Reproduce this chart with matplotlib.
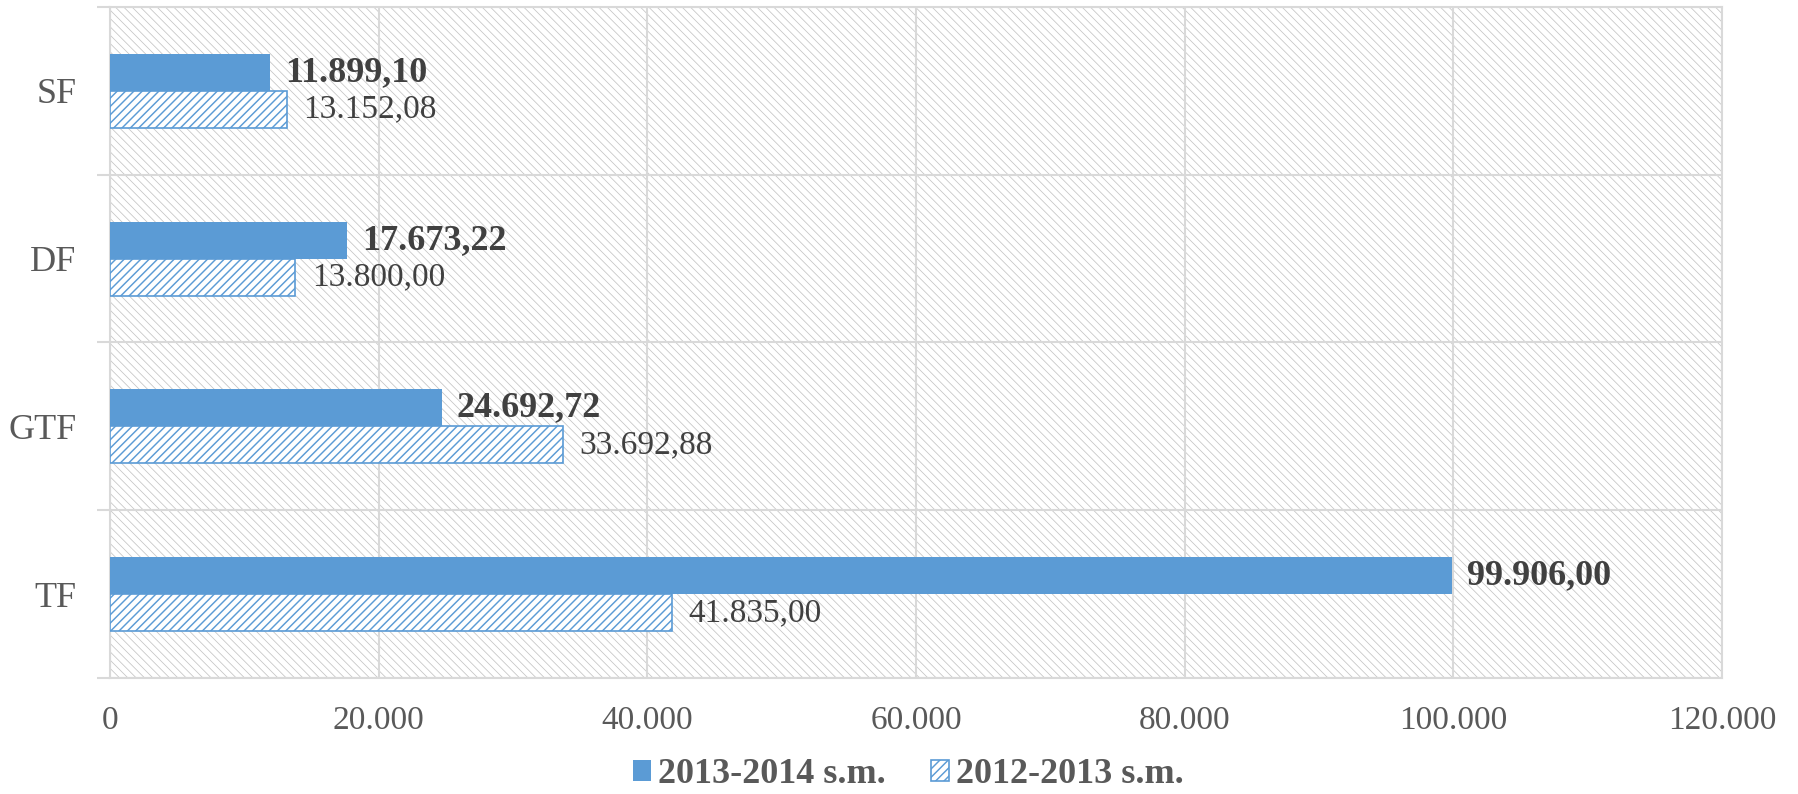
import numpy as np
import matplotlib
matplotlib.use("Agg")
import matplotlib.pyplot as plt
import matplotlib.ticker as ticker
from matplotlib.patches import Rectangle

# data
categories = ["TF", "GTF", "DF", "SF"]
series_new = [99906.00, 24692.72, 17673.22, 11899.10]   # 2013-2014 s.m.
series_old = [41835.00, 33692.88, 13800.00, 13152.08]   # 2012-2013 s.m.
name_new = "2013-2014 s.m."
name_old = "2012-2013 s.m."
x_ticks = [0, 20000, 40000, 60000, 80000, 100000, 120000]

BLUE = "#5B9BD5"
GRID = "#D9D9D9"
TXT = "#595959"
VAL = "#404040"

plt.rcParams["font.family"] = ["Liberation Serif", "DejaVu Serif"]


def tr_fmt(v, dec=2):
    # 12345.6 -> "12.345,60"
    s = f"{v:,.{dec}f}"
    return s.replace(",", "X").replace(".", ",").replace("X", ".")


fig = plt.figure(figsize=(17.99, 7.94), dpi=100)
ax = fig.add_axes([0.0611, 0.1461, 0.9572 - 0.0611, 0.9912 - 0.1461])

# hatched plot-area background
plt.rcParams["hatch.linewidth"] = 0.55
bg = Rectangle((0, 0), 1, 1, transform=ax.transAxes, facecolor="white",
               edgecolor="#C4C4C4", linewidth=0, hatch="\\\\\\\\", zorder=0)
if hasattr(bg, "set_hatch_linewidth"):
    bg.set_hatch_linewidth(0.55)
ax.add_patch(bg)

y = np.arange(len(categories))
h = 0.22

plt.rcParams["hatch.linewidth"] = 1.05
bars_new = ax.barh(y + h / 2, series_new, height=h, color=BLUE, zorder=3,
                   label=name_new)
bars_old = ax.barh(y - h / 2, series_old, height=h, facecolor="white",
                   edgecolor=BLUE, linewidth=1.2, hatch="////", zorder=3,
                   label=name_old)
for b in bars_old:
    if hasattr(b, "set_hatch_linewidth"):
        b.set_hatch_linewidth(1.05)

ax.bar_label(bars_new, labels=[tr_fmt(v) for v in series_new], padding=11,
             fontsize=26, fontweight="bold", color=VAL)
ax.bar_label(bars_old, labels=[tr_fmt(v) for v in series_old], padding=12,
             fontsize=24, color=VAL)

ax.set_xlim(0, 120000)
ax.set_ylim(-0.5, len(categories) - 0.5)

ax.set_xticks(x_ticks)
ax.xaxis.set_major_formatter(ticker.FuncFormatter(lambda v, p: tr_fmt(v, 0)))
ax.tick_params(axis="x", length=0, pad=20, labelsize=24, labelcolor=TXT)

ax.set_yticks(y)
ax.set_yticklabels(categories)
ax.set_yticks(np.arange(-0.5, len(categories)), minor=True)
ax.tick_params(axis="y", which="major", length=0, pad=24, labelsize=26,
               labelcolor=TXT)
ax.tick_params(axis="y", which="minor", length=9.5, width=1.5, color=GRID)

ax.grid(axis="x", which="major", color=GRID, linewidth=1.5, zorder=1)
ax.grid(axis="y", which="minor", color=GRID, linewidth=1.5, zorder=1)
ax.set_axisbelow(True)
for sp in ax.spines.values():
    sp.set_color(GRID)
    sp.set_linewidth(1.5)

leg = fig.legend(handles=[bars_new, bars_old], loc="center",
                 bbox_to_anchor=(0.505, 0.024), ncol=2, frameon=False,
                 handlelength=0.5, handleheight=0.5, handletextpad=0.2,
                 columnspacing=1.25, borderpad=0.1,
                 prop={"size": 26, "weight": "bold"})
for t in leg.get_texts():
    t.set_color(TXT)

fig.savefig("out.png", dpi=100)
